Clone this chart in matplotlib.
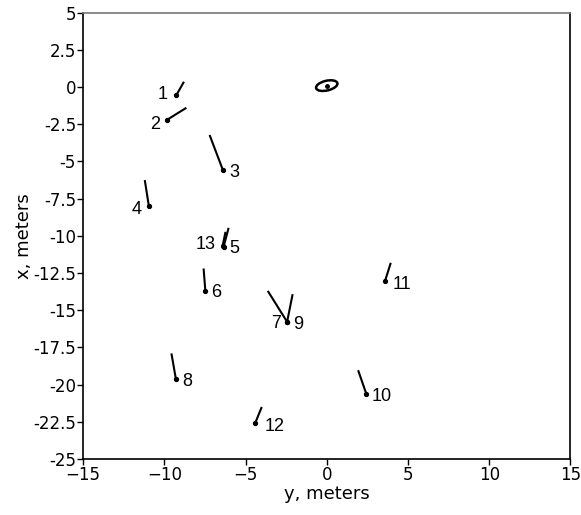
import matplotlib
matplotlib.use("Agg")
import matplotlib.pyplot as plt
from matplotlib.patches import Ellipse

# Sensor labels and positions (y, x in meters) and vector end points
labels = ["1", "2", "3", "4", "5", "6", "7", "8", "9", "10", "11", "12", "13"]
pos_y = [-9.25, -9.86, -6.39, -10.95, -6.35, -7.47, -2.44, -9.29, -2.44, 2.44, 3.59, -4.39, -6.41]
pos_x = [-0.53, -2.22, -5.58, -7.98, -10.74, -13.72, -15.78, -19.59, -15.78, -20.64, -13.02, -22.55, -10.67]
end_y = [-8.79, -8.64, -7.21, -11.20, -6.04, -7.58, -3.63, -9.56, -2.10, 1.93, 3.94, -4.00, -6.23]
end_x = [0.36, -1.39, -3.22, -6.25, -9.46, -12.19, -13.70, -17.90, -13.92, -19.03, -11.81, -21.50, -9.73]

# Source location and its uncertainty ellipse
src_y, src_x = 0.0, 0.1
ell_w, ell_h, ell_angle = 1.35, 0.65, 15

# label offsets (points) relative to each sensor
label_off = {
    "1": (-10, 0), "2": (-8, -3), "3": (8, -2), "4": (-9, -3), "5": (8, -1),
    "6": (8, -1), "7": (-8, -1), "8": (8, -2), "9": (8, -2), "10": (11, -2),
    "11": (12, -3), "12": (14, -3), "13": (-12, 1),
}

fig = plt.figure(figsize=(5.81, 5.15), dpi=100)
ax = fig.add_axes([0.1429, 0.1087, 0.8390, 0.8666])

for lab, py, px, ey, ex in zip(labels, pos_y, pos_x, end_y, end_x):
    ax.plot([py, ey], [px, ex], color="black", lw=1.5, solid_capstyle="butt")
    ax.plot([py], [px], marker="o", ms=2.8, color="black")
    dx, dy = label_off[lab]
    ax.annotate(lab, (py, px), xytext=(dx, dy), textcoords="offset points",
                ha="center", va="center", fontsize=13, family="Liberation Sans")

ax.add_patch(Ellipse((src_y, src_x), ell_w, ell_h, angle=ell_angle,
                     fill=False, edgecolor="black", lw=1.8))
ax.plot([src_y], [src_x], marker="o", ms=2.5, color="black")

ax.set_xlim(-15, 15)
ax.set_ylim(-25, 5)
ax.set_xticks(range(-15, 16, 5))
ax.set_yticks([5, 2.5, 0, -2.5, -5, -7.5, -10, -12.5, -15, -17.5, -20, -22.5, -25])
ax.set_yticklabels(["5", "2.5", "0", "-2.5", "-5", "-7.5", "-10", "-12.5", "-15",
                    "-17.5", "-20", "-22.5", "-25"])
ax.tick_params(direction="out", length=4, width=1, labelsize=12, pad=1)
ax.set_xlabel("y, meters", fontsize=13, labelpad=1)
ax.set_ylabel("x, meters", fontsize=13, labelpad=0)
for side in ["left", "bottom", "right"]:
    ax.spines[side].set_color("black")
ax.spines["top"].set_color("#777777")
for s in ax.spines.values():
    s.set_linewidth(1.2)

fig.savefig("out.png", dpi=100)
